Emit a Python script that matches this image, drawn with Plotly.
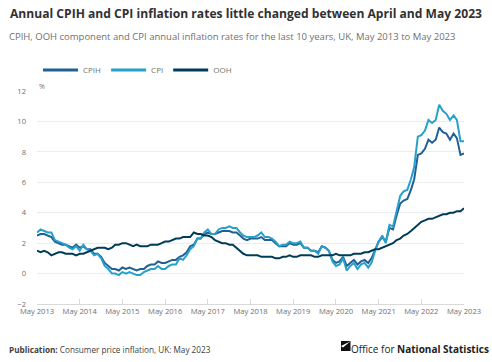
import pandas as pd
import plotly.graph_objects as go

months = pd.date_range("2013-05-01", "2023-05-01", freq="MS")

cpih = [
    2.5, 2.6, 2.6, 2.5, 2.4, 2.1, 2.0, 1.9,
    1.9, 1.8, 1.7, 1.9, 1.7, 1.8, 1.6, 1.6, 1.3, 1.3, 1.1, 0.7,
    0.5, 0.3, 0.3, 0.2, 0.4, 0.3, 0.4, 0.3, 0.2, 0.3, 0.3, 0.5,
    0.6, 0.6, 0.8, 0.7, 0.7, 0.8, 0.9, 0.9, 1.1, 1.2, 1.4, 1.8,
    1.9, 2.3, 2.3, 2.6, 2.7, 2.6, 2.6, 2.7, 2.8, 2.8, 2.8, 2.7,
    2.7, 2.5, 2.3, 2.2, 2.3, 2.3, 2.3, 2.4, 2.2, 2.2, 2.2, 2.0,
    1.8, 1.8, 1.8, 2.0, 1.9, 1.9, 2.0, 1.7, 1.7, 1.5, 1.5, 1.4,
    1.8, 1.7, 1.5, 0.9, 0.7, 0.8, 1.1, 0.5, 0.7, 0.9, 0.6, 0.8,
    0.9, 0.7, 1.0, 1.6, 2.1, 2.4, 2.1, 3.0, 2.9, 3.8, 4.6, 4.8,
    4.9, 5.5, 6.2, 7.8, 7.9, 8.2, 8.8, 8.6, 8.8, 9.6, 9.3, 9.2,
    8.8, 9.2, 8.9, 7.8, 7.9,
]

cpi = [
    2.7, 2.9, 2.8, 2.7, 2.7, 2.2, 2.1, 2.0,
    1.9, 1.7, 1.6, 1.8, 1.5, 1.9, 1.6, 1.5, 1.2, 1.3, 1.0, 0.5,
    0.3, 0.0, 0.0, -0.1, 0.1, 0.0, 0.1, 0.0, -0.1, -0.1, 0.1, 0.2,
    0.3, 0.3, 0.5, 0.3, 0.3, 0.5, 0.6, 0.6, 1.0, 0.9, 1.2, 1.6,
    1.8, 2.3, 2.3, 2.7, 2.9, 2.6, 2.6, 2.9, 3.0, 3.0, 3.1, 3.0,
    3.0, 2.7, 2.5, 2.4, 2.4, 2.4, 2.5, 2.7, 2.4, 2.4, 2.3, 2.1,
    1.8, 1.9, 1.9, 2.1, 2.0, 2.0, 2.1, 1.7, 1.7, 1.5, 1.5, 1.3,
    1.8, 1.7, 1.5, 0.8, 0.5, 0.6, 1.0, 0.2, 0.5, 0.7, 0.3, 0.6,
    0.7, 0.4, 0.7, 1.5, 2.1, 2.5, 2.0, 3.2, 3.1, 4.2, 5.1, 5.4,
    5.5, 6.2, 7.0, 9.0, 9.1, 9.4, 10.1, 9.9, 10.1, 11.1, 10.7, 10.5,
    10.1, 10.4, 10.1, 8.7, 8.7,
]

ooh = [
    1.5, 1.4, 1.5, 1.4, 1.2, 1.3, 1.4, 1.4,
    1.3, 1.3, 1.3, 1.2, 1.3, 1.3, 1.4, 1.5, 1.6, 1.7, 1.7, 1.7,
    1.6, 1.7, 1.9, 1.9, 2.0, 2.0, 1.9, 1.8, 1.9, 1.8, 1.8, 1.8,
    1.9, 1.9, 1.9, 2.0, 2.1, 2.1, 2.2, 2.3, 2.3, 2.4, 2.4, 2.4,
    2.7, 2.6, 2.6, 2.5, 2.5, 2.4, 2.2, 2.1, 2.0, 2.0, 1.9, 1.9,
    1.7, 1.5, 1.3, 1.2, 1.2, 1.2, 1.2, 1.1, 1.1, 1.1, 1.1, 1.0,
    1.0, 1.1, 1.1, 1.2, 1.1, 1.1, 1.2, 1.2, 1.2, 1.2, 1.1, 1.1,
    1.2, 1.2, 1.2, 1.2, 1.3, 1.2, 1.2, 1.2, 1.2, 1.3, 1.3, 1.3,
    1.4, 1.4, 1.5, 1.6, 1.6, 1.7, 1.8, 1.9, 2.0, 2.2, 2.3, 2.5,
    2.6, 2.8, 3.0, 3.2, 3.4, 3.5, 3.6, 3.6, 3.7, 3.8, 3.9, 3.9,
    4.0, 4.0, 4.1, 4.1, 4.3,
]

series = [
    ("CPIH", cpih, "#206095"),
    ("CPI", cpi, "#27a0cc"),
    ("OOH", ooh, "#003c57"),
]

FONT = "Open Sans"
L, R, T, B = 37, 28, 91, 58
PW, PH = 492 - L - R, 362 - T - B


def px(x):
    return (x - L) / PW


def py(y):
    return (362 - B - y) / PH


fig = go.Figure()
for name, vals, color in series:
    fig.add_trace(go.Scatter(
        x=months, y=vals, name=name, mode="lines",
        line=dict(color=color, width=2),
        hoverinfo="skip", showlegend=False, legendgroup=name,
    ))
for name, vals, color in series:
    fig.add_trace(go.Scatter(
        x=[None], y=[None], name=name, mode="lines",
        line=dict(color=color, width=3), legendgroup=name,
        hoverinfo="skip", showlegend=True,
    ))

fig.update_layout(
    width=492, height=362,
    margin=dict(l=L, r=R, t=T, b=B, autoexpand=False),
    paper_bgcolor="white", plot_bgcolor="white",
    font=dict(family=FONT, color="#707071", size=8),
    showlegend=True,
    legend=dict(
        orientation="h", xref="container", yref="container",
        x=38 / 492, y=1 - 70 / 362, xanchor="left", yanchor="middle",
        font=dict(size=8, color="#707071", family=FONT),
        itemwidth=35, traceorder="normal", bgcolor="rgba(0,0,0,0)",
    ),
    xaxis=dict(
        type="date", automargin=False,
        range=["2013-05-01", "2023-05-01"],
        tick0="2013-05-01", dtick="M12", tickformat="%b %Y",
        tickangle=0,
        showgrid=False, zeroline=False,
        showline=True, linecolor="#d9d9d9", linewidth=1,
        ticks="inside", ticklen=5, tickcolor="#d9d9d9",
        tickfont=dict(size=7.6, color="#707071"),
    ),
    yaxis=dict(
        range=[-2, 12], dtick=2, tick0=0, automargin=False,
        showgrid=True, gridcolor="#ececec", gridwidth=1,
        zeroline=False, showline=False, ticks="",
        tickfont=dict(size=7.6, color="#707071"),
        ticklabelstandoff=10,
    ),
)

fig.add_annotation(
    text="<b>Annual CPIH and CPI inflation rates little changed between April and May 2023</b>",
    xref="paper", yref="paper", x=px(8), y=py(13), xanchor="left", yanchor="middle",
    showarrow=False, font=dict(size=12.1, color="#323132", family=FONT),
)
fig.add_annotation(
    text="CPIH, OOH component and CPI annual inflation rates for the last 10 years, UK, May 2013 to May 2023",
    xref="paper", yref="paper", x=px(7), y=py(37), xanchor="left", yanchor="middle",
    showarrow=False, font=dict(size=9.5, color="#707071", family=FONT),
)
fig.add_annotation(
    text="%", xref="paper", yref="paper", x=px(37), y=py(86),
    xanchor="left", yanchor="middle", showarrow=False,
    font=dict(size=7, color="#707071", family=FONT),
)
fig.add_annotation(
    text="<b>Publication:</b> Consumer price inflation, UK: May 2023",
    xref="paper", yref="paper", x=px(7), y=py(349),
    xanchor="left", yanchor="middle", showarrow=False,
    font=dict(size=8.2, color="#414042", family=FONT),
)
fig.add_annotation(
    text="Office for <b>National Statistics</b>",
    xref="paper", yref="paper", x=px(491), y=py(349),
    xanchor="right", yanchor="middle", showarrow=False,
    font=dict(size=10, color="#222222", family=FONT),
)
# logo mark
fig.add_shape(
    type="path", xref="paper", yref="paper",
    path="M {x0},{y0} L {x1},{y0} L {x1},{y1} L {x0},{y1} Z".format(
        x0=px(341), x1=px(350.5), y0=py(351), y1=py(341)),
    fillcolor="#111111", line=dict(width=0),
)
fig.add_shape(
    type="path", xref="paper", yref="paper",
    path="M {xa},{ya} L {xb},{yb} L {xc},{yc} Z".format(
        xa=px(341), ya=py(346), xb=px(350.5), yb=py(341.2),
        xc=px(343), yc=py(347.5)),
    fillcolor="white", line=dict(width=0),
)

fig.write_html(
    "out.html",
    config={"displayModeBar": False},
    post_script="document.body.style.margin='0';document.body.style.padding='0';",
)
